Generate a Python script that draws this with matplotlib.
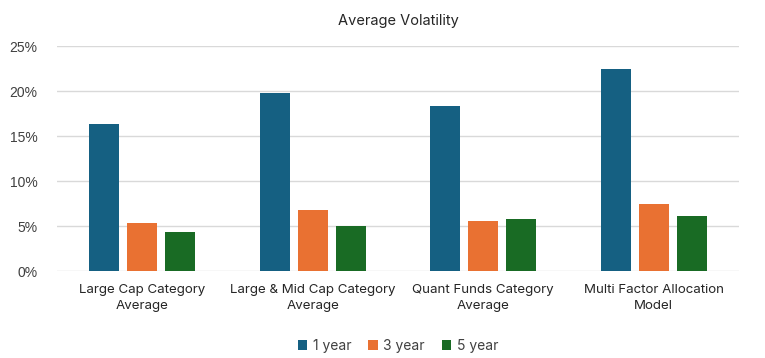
import numpy as np
import matplotlib.pyplot as plt
from matplotlib.ticker import PercentFormatter

plt.rcParams['font.family'] = ['Inter', 'DejaVu Sans']

categories = ["Large Cap Category\nAverage", "Large & Mid Cap Category\nAverage",
              "Quant Funds Category\nAverage", "Multi Factor Allocation\nModel"]
series = ["1 year", "3 year", "5 year"]
vol_1y = [16.3, 19.8, 18.3, 22.4]
vol_3y = [5.3, 6.8, 5.6, 7.4]
vol_5y = [4.3, 5.0, 5.8, 6.1]
colors = ["#156082", "#E97132", "#196B24"]

fig = plt.figure(figsize=(7.65, 3.58), dpi=100)
ax = fig.add_axes([0.0745, 0.243, 0.8915, 0.6285])

x = np.arange(len(categories))
w = 0.176
step = 0.223
for i, (vals, name) in enumerate(zip([vol_1y, vol_3y, vol_5y], series)):
    ax.bar(x + (i - 1) * step, vals, width=w, color=colors[i], label=name, zorder=3)

ax.set_xlim(-0.5, 3.5)
ax.set_ylim(0, 25)
ax.set_yticks(range(0, 26, 5))
ax.yaxis.set_major_formatter(PercentFormatter(decimals=0))
ax.grid(axis='y', color='#D9D9D9', linewidth=1, zorder=0)
for s in ax.spines.values():
    s.set_visible(False)
ax.tick_params(axis='both', length=0, colors='#404040')
ax.tick_params(axis='y', pad=14, labelsize=10)
ax.set_xticks(x)
ax.set_xticklabels(categories, fontsize=9.6, color='#262626', linespacing=1.45)
ax.tick_params(axis='x', pad=9)
for lbl in ax.get_yticklabels():
    lbl.set_family(['Liberation Sans', 'DejaVu Sans'])

ax.set_title("Average Volatility", fontsize=10.5, color='#262626', pad=15)
ax.legend(loc='upper center', bbox_to_anchor=(0.5, -0.245), ncol=3, frameon=False,
          fontsize=10, handlelength=0.7, handleheight=0.7, handletextpad=0.4,
          columnspacing=1.2, labelcolor='#404040')

fig.savefig("out.png", dpi=100)
